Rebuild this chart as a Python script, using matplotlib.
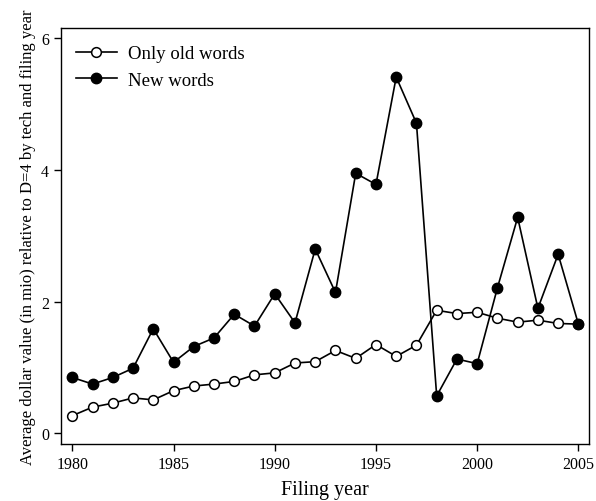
import matplotlib
matplotlib.use("Agg")
import matplotlib.pyplot as plt

years = list(range(1980, 2006))
old_words = [0.27, 0.40, 0.46, 0.54, 0.51, 0.65, 0.72, 0.75, 0.79, 0.89,
             0.92, 1.07, 1.09, 1.26, 1.14, 1.35, 1.17, 1.34, 1.87, 1.82,
             1.84, 1.75, 1.69, 1.72, 1.67, 1.66]
new_words = [0.85, 0.75, 0.85, 0.99, 1.59, 1.08, 1.32, 1.45, 1.81, 1.63,
             2.12, 1.68, 2.80, 2.14, 3.95, 3.78, 5.41, 4.71, 0.57, 1.13,
             1.06, 2.21, 3.28, 1.90, 2.72, 1.66]
xticks = [1980, 1985, 1990, 1995, 2000, 2005]
yticks = [0, 2, 4, 6]

plt.rcParams['font.family'] = ['Liberation Serif', 'DejaVu Serif']

fig = plt.figure(figsize=(5.96, 5.02), dpi=100)
ax = fig.add_axes([0.1023, 0.1135, 0.8865, 0.8281])

ax.plot(years, old_words, color='black', lw=1.2, marker='o', ms=7,
        mfc='white', mec='black', mew=1.1, label='Only old words')
ax.plot(years, new_words, color='black', lw=1.2, marker='o', ms=7.5,
        mfc='black', mec='black', label='New words')

ax.set_xlim(1979.44, 2005.54)
ax.set_ylim(-0.16, 6.15)
ax.set_xticks(xticks)
ax.set_yticks(yticks)
ax.tick_params(direction='out', length=5, width=1, labelsize=11.5)
for s in ax.spines.values():
    s.set_linewidth(1.0)

ax.set_xlabel('Filing year', fontsize=14.5, labelpad=6)
ax.set_ylabel('Average dollar value (in mio) relative to D=4 by tech and filing year',
              fontsize=12, labelpad=4)

ax.legend(loc='upper left', frameon=False, fontsize=13.5, handlelength=2.2,
          handletextpad=0.6, borderaxespad=0.0, borderpad=0.4,
          labelspacing=0.5, bbox_to_anchor=(0.014, 0.978))

fig.savefig('out.png', dpi=100)
